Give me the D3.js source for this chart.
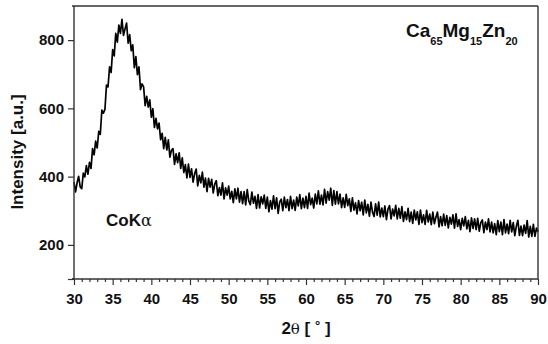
<!DOCTYPE html>
<html>
<head>
<meta charset="utf-8">
<script src="https://cdn.jsdelivr.net/npm/d3@7"></script>
<style>
body { margin: 0; background: #fff; }
text { font-family: "Liberation Sans", Arial, sans-serif; }
</style>
</head>
<body>
<div id="container"></div>
<script>
// 2theta from 30 to 90 in steps of 0.2 deg, intensity
const thetaStart = 30;
const thetaStep = 0.2;
const intensity = [
  384, 355, 382, 401, 370,  365, 410, 399, 432, 407,
  442, 424, 482, 464, 504,  484, 533, 524, 595, 586,
  597, 668, 663, 722, 705,  772, 754, 820, 794, 844,
  820, 861, 814, 833, 850,  791, 816, 769, 786, 719,
  752, 699, 722, 655, 672,  663, 608, 635, 604, 625,
  574, 599, 544, 571, 540,  557, 508, 527, 482, 515,
  478, 508, 457, 477, 482,  436, 467, 441, 470, 424,
  455, 412, 435, 396, 437,  398, 423, 384, 409, 422,
  373, 404, 382, 413, 369,  396, 356, 395, 369, 392,
  352, 378, 388, 344, 368,  346, 382, 335, 367, 346,
  372, 335, 357, 324, 364,  335, 366, 325, 356, 321,
  356, 317, 362, 329, 318,  355, 322, 342, 307, 347,
  308, 341, 320, 346, 307,  340, 297, 330, 305, 344,
  306, 338, 292, 326, 334,  300, 340, 309, 333, 300,
  342, 306, 331, 301, 340,  314, 347, 306, 337, 309,
  342, 307, 352, 318, 337,  308, 349, 320, 358, 319,
  346, 317, 363, 322, 356,  331, 366, 316, 359, 319,
  356, 320, 349, 309, 338,  310, 348, 315, 335, 298,
  338, 302, 323, 291, 330,  300, 325, 288, 331, 294,
  319, 284, 325, 296, 283,  320, 287, 325, 282, 308,
  283, 314, 274, 305, 315,  276, 305, 285, 316, 276,
  307, 278, 312, 269, 297,  274, 307, 268, 296, 263,
  302, 273, 297, 260, 302,  265, 288, 260, 301, 267,
  290, 259, 296, 262, 281,  296, 253, 283, 256, 290,
  257, 286, 250, 281, 261,  288, 249, 291, 254, 274,
  245, 278, 256, 283, 247,  272, 239, 279, 248, 276,
  245, 278, 240, 265, 273,  236, 267, 245, 276, 238,
  267, 235, 262, 230, 271,  239, 267, 230, 274, 235,
  261, 233, 272, 238, 265,  227, 255, 272, 228, 255,
  227, 258, 234, 271, 223,  254, 225, 260, 225, 249,
  238
];
const xTicks = [30, 35, 40, 45, 50, 55, 60, 65, 70, 75, 80, 85, 90];
const yTicks = [200, 400, 600, 800];
const elements = ["Ca", "Mg", "Zn"];
const fractions = ["65", "15", "20"];

const dataset = intensity.map((v, i) => ({ t: thetaStart + i * thetaStep, v: v }));

const w = 548, h = 344;
const margin = { top: 6, left: 74, bottom: 65, right: 10 };
const graphWidth = w - margin.left - margin.right;
const graphHeight = h - margin.top - margin.bottom;

const svg = d3.select("#container").append("svg").attr("width", w).attr("height", h);
const graph = svg.append("g").attr("transform", `translate(${margin.left}, ${margin.top})`);

const xScale = d3.scaleLinear().domain([30, 90]).range([0, graphWidth]);
const yScale = d3.scaleLinear().domain([100, 900]).range([graphHeight, 0]);

// data line
graph.append("path")
  .datum(dataset)
  .attr("fill", "none")
  .attr("stroke", "#000")
  .attr("stroke-width", 1.7)
  .attr("stroke-linejoin", "round")
  .attr("d", d3.line().x(d => xScale(d.t)).y(d => yScale(d.v)));

// frame: top and right
graph.append("line").attr("x1", -2).attr("x2", graphWidth).attr("y1", 0).attr("y2", 0)
  .attr("stroke", "#333").attr("stroke-width", 1.4);
graph.append("line").attr("x1", graphWidth).attr("x2", graphWidth).attr("y1", 0).attr("y2", graphHeight)
  .attr("stroke", "#333").attr("stroke-width", 1.4);

const fontTick = "'Liberation Sans', Arial, sans-serif";

// x axis with minor ticks
const xAxisGroup = graph.append("g").attr("transform", `translate(0, ${graphHeight})`);
xAxisGroup.call(d3.axisBottom(xScale).tickValues(d3.range(30, 91, 1)).tickSize(3).tickFormat(""));
xAxisGroup.call(g => g.selectAll(".tick").filter(d => d % 5 === 0).select("line").attr("y2", 6));
const xLabels = graph.append("g").attr("transform", `translate(0, ${graphHeight})`)
  .call(d3.axisBottom(xScale).tickValues(xTicks).tickSize(0).tickPadding(14).tickFormat(d3.format("d")));
xLabels.select(".domain").remove();
xLabels.selectAll("text").attr("font-size", 15).attr("font-weight", "bold").attr("fill", "#111")
  .style("font-family", fontTick);

// y axis
const yAxisGroup = graph.append("g");
yAxisGroup.call(d3.axisLeft(yScale).tickValues([100, 200, 400, 600, 800]).tickSize(6).tickPadding(4)
  .tickFormat(d => yTicks.includes(d) ? d : ""));
yAxisGroup.selectAll("text").attr("font-size", 15).attr("font-weight", "bold").attr("fill", "#111")
  .style("font-family", fontTick);

[xAxisGroup, yAxisGroup].forEach(g => {
  g.select(".domain").attr("stroke", "#333").attr("stroke-width", 1.4);
  g.selectAll(".tick line").attr("stroke", "#333").attr("stroke-width", 1.2);
});
yAxisGroup.select(".domain").attr("d", `M-2,${graphHeight}H0V0`);
xAxisGroup.select(".domain").attr("d", `M-2,0H${graphWidth}`);

// axis titles
svg.append("text")
  .attr("transform", "translate(23, 152) rotate(-90)")
  .attr("text-anchor", "middle")
  .attr("font-size", 17).attr("font-weight", "bold").attr("fill", "#111")
  .text("Intensity [a.u.]");

const xt = svg.append("text")
  .attr("x", margin.left + graphWidth / 2).attr("y", 334)
  .attr("text-anchor", "middle")
  .attr("font-size", 17).attr("font-weight", "bold").attr("fill", "#111");
xt.append("tspan").text("2");
xt.append("tspan").attr("font-weight", "normal").attr("font-family", "'DejaVu Serif', serif").attr("font-size", 15).text("θ");
xt.append("tspan").text(" [ ");
xt.append("tspan").attr("dy", -4).attr("font-size", 13).text("°");
xt.append("tspan").attr("dy", 4).text(" ]");

// annotations
const ko = svg.append("text").attr("x", 106).attr("y", 226)
  .attr("font-size", 17).attr("font-weight", "bold").attr("fill", "#111");
ko.append("tspan").text("CoK");
ko.append("tspan").attr("font-weight", "normal").attr("font-family", "'DejaVu Serif', serif").attr("font-size", 16).text("α");

const comp = svg.append("text").attr("x", 406).attr("y", 37)
  .attr("font-size", 19).attr("font-weight", "bold").attr("fill", "#111");
elements.forEach((el, i) => {
  comp.append("tspan").attr("dy", i === 0 ? 0 : -8).text(el);
  comp.append("tspan").attr("dy", 8).attr("font-size", 11).text(fractions[i]);
});
</script>
</body>
</html>
